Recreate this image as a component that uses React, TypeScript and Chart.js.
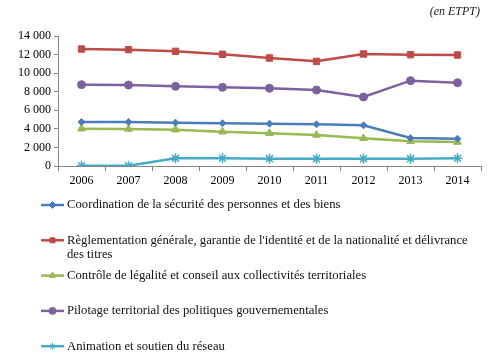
import React, { useEffect, useRef } from 'react';
import { Chart, registerables } from 'chart.js';
import { drawPoint } from 'chart.js/helpers';

Chart.register(...registerables);

const years = ['2006', '2007', '2008', '2009', '2010', '2011', '2012', '2013', '2014'];
const coordination = [4740, 4740, 4670, 4600, 4560, 4490, 4380, 3020, 2940];
const reglementation = [12600, 12530, 12350, 12030, 11630, 11270, 12060, 11990, 11950];
const controle = [4020, 3980, 3910, 3690, 3520, 3340, 2980, 2660, 2580];
const pilotage = [8760, 8720, 8580, 8470, 8370, 8180, 7430, 9190, 8970];
const animation = [30, 30, 830, 830, 790, 790, 790, 790, 830];

const seriesLabels: (string | string[])[] = [
  'Coordination de la sécurité des personnes et des biens',
  ["Règlementation générale, garantie de l'identité et de la nationalité et délivrance", 'des titres'],
  'Contrôle de légalité et conseil aux collectivités territoriales',
  'Pilotage territorial des politiques gouvernementales',
  'Animation et soutien du réseau',
];
const unitLabel = '(en ETPT)';
const yMax = 14000;
const yStep = 2000;

const FONT = '"Liberation Serif", "DejaVu Serif", serif';

const legendPlugin = {
  id: 'customLegend',
  afterDraw(chart: any) {
    const ctx = chart.ctx as CanvasRenderingContext2D;
    ctx.save();
    // unit label
    ctx.font = `italic 12px ${FONT}`;
    ctx.fillStyle = '#222';
    ctx.textAlign = 'right';
    ctx.textBaseline = 'middle';
    ctx.fillText(unitLabel, 480, 12);

    const startY = 205;
    const gap = 35.3;
    ctx.font = `12.7px ${FONT}`;
    ctx.textAlign = 'left';
    chart.data.datasets.forEach((ds: any, i: number) => {
      const y = startY + i * gap;
      ctx.strokeStyle = ds.borderColor;
      ctx.lineWidth = 2.5;
      ctx.beginPath();
      ctx.moveTo(41, y);
      ctx.lineTo(64, y);
      ctx.stroke();
      ctx.fillStyle = ds.pointBackgroundColor;
      ctx.strokeStyle = ds.pointBorderColor;
      ctx.lineWidth = 1;
      drawPoint(ctx, { pointStyle: ds.pointStyle, radius: Math.min(ds.pointRadius, 3.5), rotation: 0, borderWidth: 1 } as any, 52.5, y);
      ctx.fillStyle = '#111';
      const lines = Array.isArray(ds.label) ? ds.label : [ds.label];
      lines.forEach((t: string, k: number) => ctx.fillText(t, 67, y + k * 14.5));
    });
    ctx.restore();
  },
};

function mk(label: any, data: number[], color: string, pointStyle: string, radius: number) {
  return {
    label,
    data,
    borderColor: color,
    backgroundColor: color,
    pointBackgroundColor: color,
    pointBorderColor: color,
    pointStyle,
    pointRadius: radius,
    pointBorderWidth: pointStyle === 'star' ? 1.5 : 1,
    borderWidth: 2.5,
    tension: 0,
    fill: false,
  };
}

export default function App() {
  const ref = useRef<HTMLCanvasElement>(null);
  useEffect(() => {
    if (!ref.current) return;
    const chart = new Chart(ref.current, {
      type: 'line',
      data: {
        labels: years,
        datasets: [
          mk(seriesLabels[0], coordination, '#4A7EBB', 'rectRot', 3.5),
          mk(seriesLabels[1], reglementation, '#BE4B48', 'rect', 4.5),
          mk(seriesLabels[2], controle, '#98B954', 'triangle', 4.5),
          mk(seriesLabels[3], pilotage, '#7D60A0', 'circle', 4),
          mk(seriesLabels[4], animation, '#46AAC5', 'star', 5),
        ] as any,
      },
      options: {
        animation: false,
        responsive: false,
        maintainAspectRatio: false,
        layout: { padding: { top: 36, right: 10, bottom: 0, left: 0 } },
        plugins: {
          legend: { display: false },
          title: { display: false },
          tooltip: { enabled: false },
        },
        scales: {
          x: {
            offset: true,
            grid: { display: true, drawOnChartArea: false, drawTicks: true, tickLength: 5, color: '#868686', offset: true },
            border: { color: '#868686', width: 1 },
            ticks: { color: '#000', font: { family: FONT, size: 12 }, padding: 3, maxRotation: 0 },
            afterFit: (s: any) => { s.height = 192; },
          },
          y: {
            min: 0,
            max: yMax,
            grid: { display: true, drawOnChartArea: false, drawTicks: true, tickLength: 4, color: '#868686' },
            border: { color: '#868686', width: 1 },
            ticks: {
              stepSize: yStep,
              color: '#000',
              font: { family: FONT, size: 12 },
              padding: 3,
              callback: (v: any) => {
                const n = Number(v);
                if (n >= 1000) return `${Math.floor(n / 1000)} ${String(n % 1000).padStart(3, '0')}`;
                return String(n);
              },
            },
            afterFit: (s: any) => { s.width = 58; },
          },
        },
      },
      plugins: [legendPlugin],
    });
    return () => chart.destroy();
  }, []);
  return (
    <div style={{ position: 'fixed', left: 0, top: 0, width: 491, height: 358, background: '#fff' }}>
      <canvas ref={ref} width={491} height={358} style={{ display: 'block', width: 491, height: 358 }} />
    </div>
  );
}
